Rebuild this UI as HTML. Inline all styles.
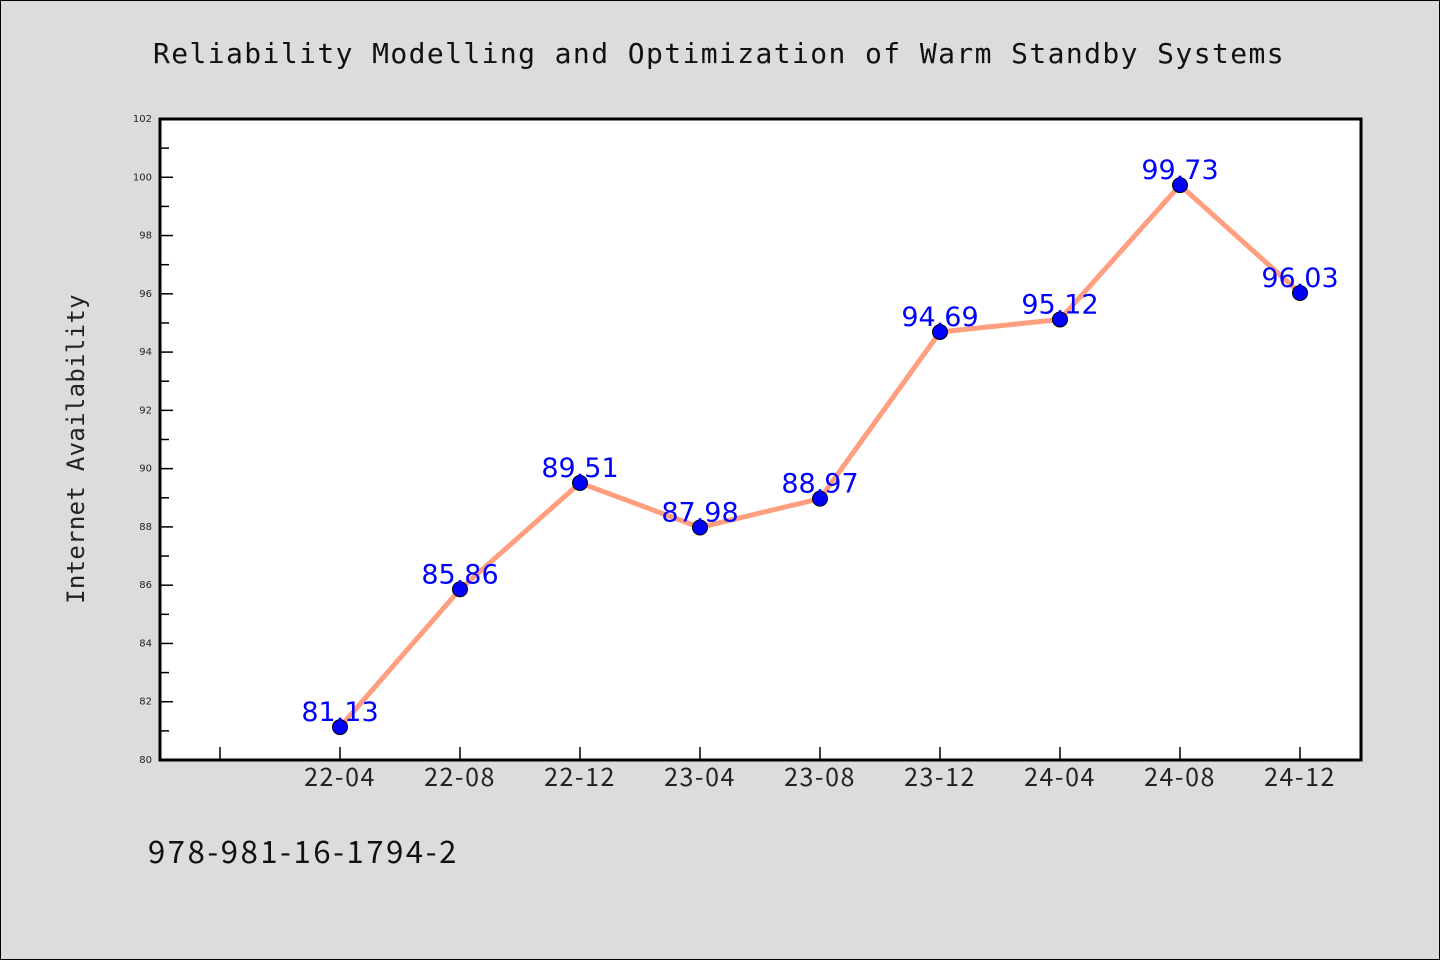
<!DOCTYPE html>
<html><head><meta charset="utf-8"><style>
body{margin:0;background:#dcdcdc;}
svg{display:block;font-family:"DejaVu Sans Mono","Liberation Mono",monospace;}
</style></head><body>
<svg width="1440" height="960">
<rect x="0.5" y="0.5" width="1439" height="959" fill="#dcdcdc" stroke="#000"/>
<text x="719" y="63" text-anchor="middle" font-size="28" letter-spacing="1.4" fill="#111">Reliability Modelling and Optimization of Warm Standby Systems</text>
<rect x="160" y="119" width="1201" height="641" fill="#fff" stroke="#000" stroke-width="3"/>
<text transform="translate(84,449) rotate(-90)" text-anchor="middle" font-size="24" letter-spacing="0.3" fill="#222">Internet Availability</text>
<text x="148" y="863" font-family="'Noto Sans CJK SC',sans-serif" font-size="31" letter-spacing="2.6" fill="#111">978-981-16-1794-2</text>
<g id="yaxis"></g>
<g id="xaxis"></g>
<g id="series"></g>
</svg>
<script>
const categories=["22-04","22-08","22-12","23-04","23-08","23-12","24-04","24-08","24-12"];
const values=[81.13,85.86,89.51,87.98,88.97,94.69,95.12,99.73,96.03];
const yTicks=[80,82,84,86,88,90,92,94,96,98,100,102];
(function(){
const NS="http://www.w3.org/2000/svg";
const yMin=80,yMax=102,yTop=119,yBot=760;
const y=v=>yBot-(v-yMin)/(yMax-yMin)*(yBot-yTop);
const x=i=>340+i*120;
function mk(t,a,p){const e=document.createElementNS(NS,t);for(const k in a)e.setAttribute(k,a[k]);p.appendChild(e);return e;}
const ya=document.getElementById('yaxis'),xa=document.getElementById('xaxis'),se=document.getElementById('series');
for(let v=yMin;v<=yMax;v++){
  const major=v%2===0;
  const l=mk('line',{x1:160,x2:160+(major?13:9),y1:y(v),y2:y(v),stroke:'#000','stroke-width':1.5},ya);
  
  
}
yTicks.forEach(v=>{
  const t=mk('text',{x:152,y:y(v)+3,'text-anchor':'end','font-size':10,fill:'#222','font-family':'DejaVu Sans,sans-serif'},ya);
  t.textContent=v;
  
  
});
for(let i=-1;i<categories.length;i++){
  const l=mk('line',{x1:x(i),x2:x(i),y1:760,y2:747,stroke:'#000','stroke-width':1.5},xa);
  
  
}
categories.forEach((c,i)=>{
  const t=mk('text',{x:x(i),y:786,'text-anchor':'middle','font-size':25,'letter-spacing':1.5,fill:'#222','font-family':"'Noto Sans CJK SC',sans-serif"},xa);
  t.textContent=c;
  
  
});
const pts=values.map((v,i)=>x(i)+','+y(v)).join(' ');
const pl=mk('polyline',{points:pts,fill:'none',stroke:'#ff9f7f','stroke-width':5,'stroke-linejoin':'round'},se);


values.forEach((v,i)=>{
  const c=mk('circle',{cx:x(i),cy:y(v),r:7.5,fill:'#0000ff',stroke:'#000','stroke-width':1},se);
  
  
});
values.forEach((v,i)=>{
  const t=mk('text',{x:x(i),y:y(v)-6,'text-anchor':'middle','font-size':27,fill:'#0000ff','font-family':'DejaVu Sans,sans-serif'},se);
  t.textContent=v.toFixed(2);
  
  
});
})();
</script>
</body></html>
